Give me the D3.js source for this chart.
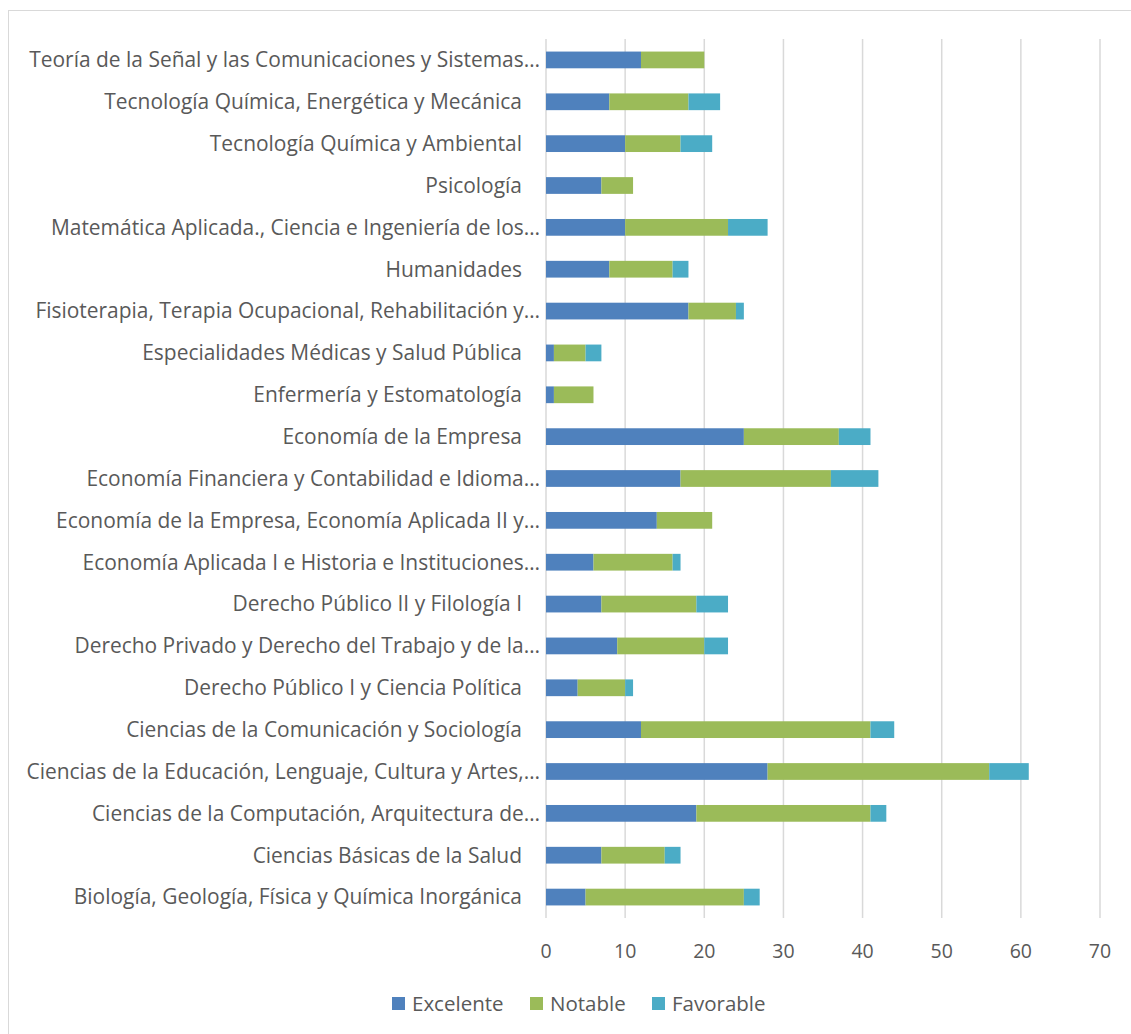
<!DOCTYPE html>
<html>
<head>
<meta charset="utf-8">
<script src="https://cdn.jsdelivr.net/npm/d3@7"></script>
<style>
  body { margin: 0; background: #fff; }
  text { font-family: "Open Sans", sans-serif; fill: #595959; }
</style>
</head>
<body>
<div id="chart"></div>
<script>
// categories, top to bottom (labels as shown, trailing space kept)
const categories = [
  "Teoría de la Señal y las Comunicaciones y Sistemas…",
  "Tecnología Química, Energética y Mecánica ",
  "Tecnología Química y Ambiental ",
  "Psicología ",
  "Matemática Aplicada., Ciencia e Ingeniería de los…",
  "Humanidades ",
  "Fisioterapia, Terapia Ocupacional, Rehabilitación y…",
  "Especialidades Médicas y Salud Pública ",
  "Enfermería y Estomatología ",
  "Economía de la Empresa ",
  "Economía Financiera y Contabilidad e Idioma…",
  "Economía de la Empresa, Economía Aplicada II y…",
  "Economía Aplicada I e Historia e Instituciones…",
  "Derecho Público II y Filología I ",
  "Derecho Privado y Derecho del Trabajo y de la…",
  "Derecho Público I y Ciencia Política ",
  "Ciencias de la Comunicación y Sociología ",
  "Ciencias de la Educación, Lenguaje, Cultura y Artes,…",
  "Ciencias de la Computación, Arquitectura de…",
  "Ciencias Básicas de la Salud ",
  "Biología, Geología, Física y Química Inorgánica "
];
const excelente = [12, 8, 10, 7, 10, 8, 18, 1, 1, 25, 17, 14, 6, 7, 9, 4, 12, 28, 19, 7, 5];
const notable   = [8, 10, 7, 4, 13, 8, 6, 4, 5, 12, 19, 7, 10, 12, 11, 6, 29, 28, 22, 8, 20];
const favorable = [0, 4, 4, 0, 5, 2, 1, 2, 0, 4, 6, 0, 1, 4, 3, 1, 3, 5, 2, 2, 2];
const seriesNames = ["Excelente", "Notable", "Favorable"];
const colors = ["#4f81bd", "#9bbb59", "#4bacc6"];
const xTicks = [0, 10, 20, 30, 40, 50, 60, 70];

const W = 1131, H = 1034;
const plot = {left: 546, right: 1100, top: 39, bottom: 918};

const svg = d3.select("#chart").append("svg")
    .attr("width", W)
    .attr("height", H);

// outer chart border
svg.append("rect")
    .attr("x", 8.5).attr("y", 10.5)
    .attr("width", W).attr("height", H)
    .attr("fill", "none")
    .attr("stroke", "#d9d9d9")
    .attr("stroke-width", 1);

let x = d3.scaleLinear().domain([0, 70]).range([plot.left, plot.right]);
let y = d3.scaleBand().domain(categories).range([plot.top, plot.bottom]).paddingInner(0.6).paddingOuter(0.3);

// grid lines
svg.append("g")
  .selectAll("line")
  .data(xTicks)
  .join("line")
    .attr("x1", (d) => x(d)).attr("x2", (d) => x(d))
    .attr("y1", plot.top).attr("y2", plot.bottom)
    .attr("stroke", "#d9d9d9")
    .attr("stroke-width", 1.5);

// tick labels
svg.append("g")
  .selectAll("text")
  .data(xTicks)
  .join("text")
    .attr("x", (d) => x(d))
    .attr("y", 958)
    .attr("text-anchor", "middle")
    .style("font-size", "19.5px")
    .text((d) => d);

// stacked bars
let rows = categories.map((c, i) => ({cat: c, Excelente: excelente[i], Notable: notable[i], Favorable: favorable[i]}));
let stack = d3.stack().keys(seriesNames)(rows);

svg.append("g")
  .selectAll("g")
  .data(stack)
  .join("g")
    .attr("fill", (d, i) => colors[i])
  .selectAll("rect")
  .data((d) => d)
  .join("rect")
    .attr("x", (d) => x(d[0]))
    .attr("width", (d) => x(d[1]) - x(d[0]))
    .attr("y", (d) => y(d.data.cat))
    .attr("height", y.bandwidth());

// category labels (the ones with a trailing space sit a bit further left)
svg.append("g")
  .selectAll("text")
  .data(categories)
  .join("text")
    .attr("x", (d) => d.endsWith(" ") ? 522 : 540)
    .attr("y", (d) => y(d) + y.bandwidth() / 2)
    .attr("dy", "0.35em")
    .attr("text-anchor", "end")
    .style("font-size", "20.95px")
    .text((d) => d.trim());

// legend
let legend = svg.append("g")
  .selectAll("g")
  .data(seriesNames)
  .join("g")
    .attr("transform", (d, i) => "translate(" + [392, 530, 652][i] + ",1003.5)");
legend.append("rect")
    .attr("x", 0).attr("y", -6.5)
    .attr("width", 13).attr("height", 13)
    .attr("fill", (d, i) => colors[i]);
legend.append("text")
    .attr("x", 20)
    .attr("dy", "0.35em")
    .style("font-size", "20.5px")
    .text((d) => d);
</script>
</body>
</html>
